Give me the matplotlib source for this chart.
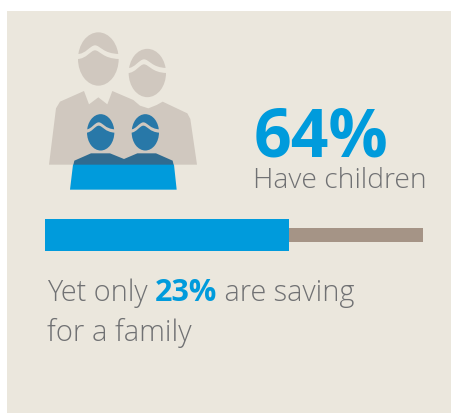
import matplotlib
matplotlib.use("Agg")
import matplotlib.pyplot as plt
from matplotlib.patches import Ellipse, Polygon, PathPatch, Rectangle
from matplotlib.path import Path

# Survey figures
have_children_pct = 64
saving_pct = 23
headline = f"{have_children_pct}%"
headline_label = "Have children"
caption_parts = ["Yet only ", f"{saving_pct}%", " are saving"]
caption_second_line = "for a family"
bar_scale_max = 99.1

PANEL = "#ebe7dd"
BLUE = "#009bdc"
TAN = "#a59486"
ADULT = "#d0c8bf"
CHILD_HEAD = "#2878a8"
CHILD_SHOULDER = "#2f6b90"
GREY = "#707173"
FONT = "Open Sans"

fig = plt.figure(figsize=(4.52, 4.14), dpi=100, facecolor="white")

# Canvas axes measured in pixels, origin top-left, for the panel, icon and text
canvas = fig.add_axes([0, 0, 1, 1])
canvas.set_xlim(0, 452)
canvas.set_ylim(414, 0)
canvas.axis("off")
canvas.add_patch(Rectangle((7, 12), 445, 402, fc=PANEL, ec="none"))


def z(x, y):
    """Convert icon artwork units to canvas pixels."""
    return (30 + x / 3, 20 + y / 3)


def hair(left, right, y, peak, rise, t, color):
    """Swoosh parting across a head, between left and right, cresting at peak."""
    verts = [
        (left, y), (peak - rise * 1.1, y + 1), (peak - rise * 0.55, y - rise), (peak, y - rise),
        (peak + rise * 0.6, y - rise), (peak + rise * 0.9, y - 1), (right, y),
        (right, y + t),
        (peak + rise * 0.9, y + t - 1), (peak + rise * 0.55, y - rise + t), (peak, y - rise + t),
        (peak - rise * 0.5, y - rise + t), (peak - rise * 1.0, y + t), (left, y + t),
        (left, y),
    ]
    verts = [z(*v) for v in verts]
    codes = [Path.MOVETO] + [Path.CURVE4] * 6 + [Path.LINETO] + [Path.CURVE4] * 6 + [Path.CLOSEPOLY]
    canvas.add_patch(PathPatch(Path(verts, codes), fc=color, ec="none", zorder=4))


# Adult silhouettes
adult_body = [(57, 437), (78, 268), (90, 248), (162, 216), (177, 256), (205, 235), (232, 256), (247, 216),
              (310, 243), (330, 260), (355, 268), (380, 258), (398, 248), (472, 283), (481, 300), (501, 437)]
canvas.add_patch(Polygon([z(*p) for p in adult_body], fc=ADULT, ec="none", zorder=2))
for (cx, cy, w, h, hy, peak) in [(205, 120, 122, 160, 105, 195), (352, 162, 112, 145, 147, 342)]:
    canvas.add_patch(Ellipse(z(cx, cy), w / 3, h / 3, fc=ADULT, ec="none", zorder=3))
    hair(cx - w / 2 - 2, cx + w / 2 + 2, hy, peak, 26, 15, PANEL)

# Child silhouettes
for cx, peak in ((212, 206), (346, 340)):
    canvas.add_patch(Ellipse(z(cx, 340), 82 / 3, 109 / 3, fc=CHILD_HEAD, ec="none", zorder=3))
    hair(cx - 43, cx + 43, 331, peak, 21, 10, ADULT)
shoulders = [(130, 438), (133, 425), (183, 403), (240, 403), (282, 420), (322, 403), (378, 403), (428, 425), (431, 438)]
canvas.add_patch(Polygon([z(*p) for p in shoulders], fc=CHILD_SHOULDER, ec="none", zorder=3))
lower = [(129, 437), (120, 512), (440, 512), (432, 437)]
canvas.add_patch(Polygon([z(*p) for p in lower], fc=BLUE, ec="none", zorder=3))

# Headline figure and its label
canvas.text(254, 157, headline, fontfamily=FONT, fontweight="bold", fontsize=47.5, color=BLUE, va="baseline", ha="left")
canvas.text(253, 188, headline_label, fontfamily=FONT, fontweight="light", fontsize=20.3, color=GREY, va="baseline", ha="left")

# Progress bar with a full-width track behind the filled share
bar = fig.add_axes([45 / 452, 1 - 252 / 414, 378 / 452, 32 / 414])
bar.set_xlim(0, bar_scale_max)
bar.set_ylim(-0.5, 0.5)
bar.axis("off")
bar.axhspan(-7 / 32, 7 / 32, color=TAN, lw=0, zorder=1)
bar.barh(0, have_children_pct, height=1.0, color=BLUE, zorder=2)

# Caption with the emphasised figure set inline
renderer = fig.canvas.get_renderer()
x = 47
for part, weight, color, size in zip(caption_parts, ["light", "bold", "light"], [GREY, BLUE, GREY], [20.8, 22, 20.8]):
    t = canvas.text(x, 301, part.replace(" ", "\u00a0"), fontfamily=FONT, fontweight=weight, fontsize=size,
                    color=color, va="baseline", ha="left")
    x += t.get_window_extent(renderer).width
canvas.text(47, 341, caption_second_line, fontfamily=FONT, fontweight="light", fontsize=21.1, color=GREY,
            va="baseline", ha="left")

fig.savefig("out.png", dpi=100, facecolor=fig.get_facecolor())
